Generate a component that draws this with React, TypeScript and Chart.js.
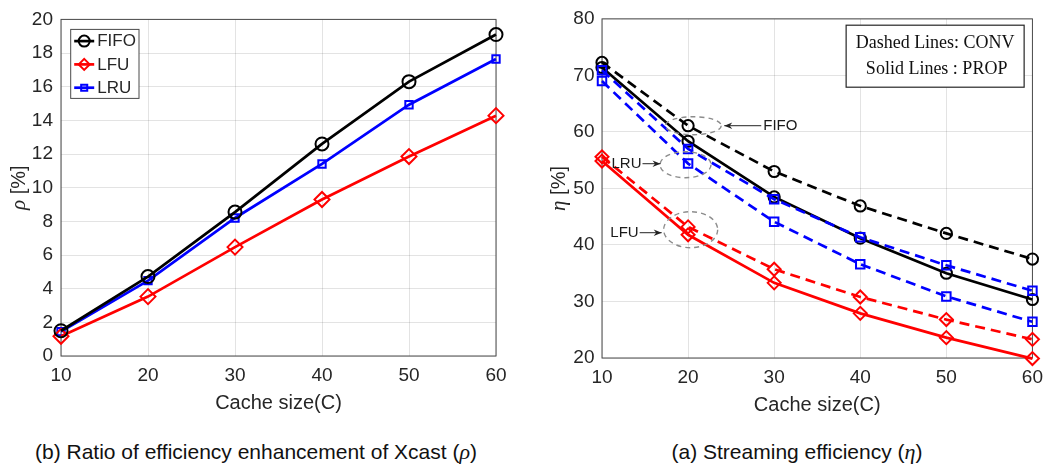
import React, { useEffect, useRef } from "react";
import { Chart, registerables } from "chart.js";

Chart.register(...registerables);

// ---------------- data ----------------
const cacheSizes = [10, 20, 30, 40, 50, 60];

// (b) ratio of efficiency enhancement rho [%]
const rhoFIFO = [1.5, 4.72, 8.55, 12.6, 16.3, 19.1];
const rhoLFU = [1.17, 3.53, 6.47, 9.3, 11.85, 14.28];
const rhoLRU = [1.45, 4.48, 8.2, 11.41, 14.93, 17.65];

// (a) streaming efficiency eta [%]
const etaFIFOConv = [72.3, 61.1, 53.0, 46.9, 42.05, 37.5];
const etaFIFOProp = [71.4, 58.35, 48.5, 41.2, 35.0, 30.35];
const etaLRUConv = [70.9, 57.0, 48.1, 41.35, 36.4, 31.9];
const etaLRUProp = [69.0, 54.4, 44.1, 36.6, 30.9, 26.4];
const etaLFUConv = [55.6, 43.2, 35.7, 30.8, 26.8, 23.3];
const etaLFUProp = [54.85, 41.8, 33.3, 27.9, 23.6, 19.9];

const rhoTicks = { min: 0, max: 20, step: 2 };
const etaTicks = { min: 20, max: 80, step: 10 };
const xTicks = { min: 10, max: 60, step: 10 };

const xTitle = "Cache size(C)";
const captionLeft = "(b) Ratio of efficiency enhancement of Xcast (";
const captionRight = "(a) Streaming efficiency (";
const noteLines = ["Dashed Lines: CONV", "Solid Lines : PROP"];

// annotation labels (ellipse centre in data units)
const annLabels = ["FIFO", "LRU", "LFU"];
const annCx = [20.6, 19.7, 20.3];
const annCy = [61.1, 54.2, 42.7];

// ---------------- styles ----------------
const SANS = '"Liberation Sans", Arial, sans-serif';
const SERIF = '"Liberation Serif", "Times New Roman", serif';
const TXT = "#262626";
const GRID = "rgba(38,38,38,0.13)";
const FRAME = "#4a4a4a";

const pts = (ys: number[]) => cacheSizes.map((x, i) => ({ x, y: ys[i] }));

function drawMarker(ctx: CanvasRenderingContext2D, style: string, x: number, y: number, r: number) {
  ctx.beginPath();
  if (style === "circle") {
    ctx.arc(x, y, r, 0, Math.PI * 2);
  } else if (style === "rectRot") {
    ctx.moveTo(x, y - r);
    ctx.lineTo(x + r, y);
    ctx.lineTo(x, y + r);
    ctx.lineTo(x - r, y);
    ctx.closePath();
  } else {
    const s = r * Math.SQRT1_2;
    ctx.rect(x - s, y - s, 2 * s, 2 * s);
  }
  ctx.stroke();
}

const framePlugin = {
  id: "frame",
  beforeDatasetsDraw(chart: any) {
    const { ctx, chartArea: a } = chart;
    ctx.save();
    ctx.strokeStyle = FRAME;
    ctx.lineWidth = 1;
    ctx.strokeRect(a.left, a.top, a.right - a.left, a.bottom - a.top);
    ctx.restore();
  },
};

function yTitlePlugin(symbol: string, rest: string, cx: number) {
  return {
    id: "ytitle",
    afterDraw(chart: any) {
      const { ctx, chartArea: a } = chart;
      const cy = (a.top + a.bottom) / 2;
      ctx.save();
      ctx.translate(cx, cy);
      ctx.rotate(-Math.PI / 2);
      const f1 = `italic 21px ${SERIF}`;
      const f2 = `20px ${SANS}`;
      ctx.font = f1;
      const w1 = ctx.measureText(symbol).width;
      ctx.font = f2;
      const w2 = ctx.measureText(rest).width;
      const x0 = -(w1 + w2) / 2;
      ctx.fillStyle = TXT;
      ctx.textAlign = "left";
      ctx.textBaseline = "middle";
      ctx.font = f1;
      ctx.fillText(symbol, x0, 0);
      ctx.font = f2;
      ctx.fillText(rest, x0 + w1, 0);
      ctx.restore();
    },
  };
}

const leftLegendPlugin = {
  id: "mlegend",
  afterDraw(chart: any) {
    const { ctx, chartArea: a } = chart;
    const x0 = a.left + 9.7;
    const y0 = a.top + 10;
    const w = 68.3;
    const h = 69;
    ctx.save();
    ctx.fillStyle = "#fff";
    ctx.fillRect(x0, y0, w, h);
    ctx.strokeStyle = FRAME;
    ctx.lineWidth = 1;
    ctx.strokeRect(x0, y0, w, h);
    chart.data.datasets.forEach((ds: any, i: number) => {
      const y = y0 + 11.7 + i * 23.3;
      ctx.strokeStyle = ds.borderColor;
      ctx.lineWidth = 2.7;
      ctx.setLineDash([]);
      ctx.beginPath();
      ctx.moveTo(x0 + 3.5, y);
      ctx.lineTo(x0 + 23.5, y);
      ctx.stroke();
      ctx.lineWidth = 2;
      drawMarker(ctx, ds.pointStyle, x0 + 13.5, y, ds.pointStyle === "rect" ? 4.3 : 5.5);
      ctx.fillStyle = TXT;
      ctx.font = `17px ${SANS}`;
      ctx.textAlign = "left";
      ctx.textBaseline = "middle";
      ctx.fillText(ds.label, x0 + 26.5, y + 0.5);
    });
    ctx.restore();
  },
};

const noteBoxPlugin = {
  id: "notebox",
  afterDraw(chart: any) {
    const { ctx, chartArea: a } = chart;
    const w = 178;
    const h = 62;
    const x0 = a.right - 8.3 - w;
    const y0 = a.top + 6.3;
    ctx.save();
    ctx.fillStyle = "#fff";
    ctx.fillRect(x0, y0, w, h);
    ctx.strokeStyle = "#262626";
    ctx.lineWidth = 1.2;
    ctx.strokeRect(x0, y0, w, h);
    ctx.fillStyle = "#111";
    ctx.font = `18px ${SERIF}`;
    ctx.textAlign = "center";
    ctx.textBaseline = "middle";
    ctx.fillText(noteLines[0], x0 + w / 2, y0 + 17.7);
    ctx.fillText(noteLines[1], x0 + w / 2 + 1.5, y0 + 44.4);
    ctx.restore();
  },
};

// per annotation geometry in px: rx, ry, text side, arrow tail/head offsets, text offset, dy
const annGeom = [
  { rx: 28, ry: 9, side: "right", tail: 68, head: 31, text: 70, dy: 0 },
  { rx: 25.5, ry: 13, side: "left", tail: -43, head: -25, text: -44, dy: -1 },
  { rx: 27, ry: 18, side: "left", tail: -51, head: -29, text: -52, dy: 3 },
];

const annotationPlugin = {
  id: "ann",
  afterDatasetsDraw(chart: any) {
    const { ctx, scales } = chart;
    ctx.save();
    annLabels.forEach((label, i) => {
      const g = annGeom[i];
      const cx = scales.x.getPixelForValue(annCx[i]);
      const cy = scales.y.getPixelForValue(annCy[i]);
      ctx.strokeStyle = "#8c8c8c";
      ctx.lineWidth = 1.4;
      ctx.setLineDash([5, 4]);
      ctx.beginPath();
      ctx.ellipse(cx, cy, g.rx, g.ry, 0, 0, Math.PI * 2);
      ctx.stroke();
      ctx.setLineDash([]);
      const y = cy + g.dy;
      const tx = cx + g.tail;
      const hx = cx + g.head;
      ctx.strokeStyle = "#222";
      ctx.lineWidth = 1;
      ctx.beginPath();
      ctx.moveTo(tx, y);
      ctx.lineTo(hx, y);
      ctx.stroke();
      const dir = hx > tx ? 1 : -1;
      ctx.fillStyle = "#222";
      ctx.beginPath();
      ctx.moveTo(hx, y);
      ctx.lineTo(hx - dir * 8, y - 3.2);
      ctx.lineTo(hx - dir * 5.5, y);
      ctx.lineTo(hx - dir * 8, y + 3.2);
      ctx.closePath();
      ctx.fill();
      ctx.fillStyle = "#1a1a1a";
      ctx.font = `15px ${SANS}`;
      ctx.textBaseline = "middle";
      ctx.textAlign = g.side === "right" ? "left" : "right";
      ctx.fillText(label, cx + g.text, y + 0.5);
    });
    ctx.restore();
  },
};

function scalesConfig(yr: { min: number; max: number; step: number }, yWidth: number, xHeight: number, titlePad: number, yPad: number) {
  return {
    x: {
      type: "linear",
      min: xTicks.min,
      max: xTicks.max,
      ticks: { stepSize: xTicks.step, color: TXT, font: { size: 19, family: SANS }, padding: 8, maxRotation: 0 },
      grid: { color: GRID, drawTicks: false, lineWidth: 1 },
      border: { display: false },
      title: { display: true, text: xTitle, color: TXT, font: { size: 20, family: SANS }, padding: { top: 0, bottom: titlePad } },
      afterFit: (s: any) => {
        s.height = xHeight;
      },
    },
    y: {
      type: "linear",
      min: yr.min,
      max: yr.max,
      ticks: { stepSize: yr.step, color: TXT, font: { size: 19, family: SANS }, padding: yPad },
      grid: { color: GRID, drawTicks: false, lineWidth: 1 },
      border: { display: false },
      afterFit: (s: any) => {
        s.width = yWidth;
      },
    },
  };
}

function lineDs(label: string, ys: number[], color: string, pointStyle: string, r: number, dashed: boolean) {
  return {
    label,
    data: pts(ys),
    borderColor: color,
    backgroundColor: color,
    pointBorderColor: color,
    pointBackgroundColor: "rgba(0,0,0,0)",
    borderWidth: 2.7,
    borderDash: dashed ? [10, 6] : [],
    pointStyle,
    pointRadius: r,
    pointBorderWidth: 2,
    pointHoverRadius: r,
    tension: 0,
    fill: false,
    clip: false,
  };
}

function LeftChart() {
  const ref = useRef<HTMLCanvasElement>(null);
  useEffect(() => {
    const chart = new Chart(ref.current as HTMLCanvasElement, {
      type: "line",
      data: {
        datasets: [
          lineDs("FIFO", rhoFIFO, "#000000", "circle", 6.5, false),
          lineDs("LFU", rhoLFU, "#ff0000", "rectRot", 7.5, false),
          lineDs("LRU", rhoLRU, "#0000ff", "rect", 5.2, false),
        ],
      } as any,
      options: {
        animation: false,
        responsive: false,
        events: [],
        layout: { padding: { left: 0, right: 29, top: 15, bottom: 0 } },
        plugins: { legend: { display: false }, tooltip: { enabled: false } },
        scales: scalesConfig(rhoTicks, 61, 64, 5, 8) as any,
      },
      plugins: [framePlugin, yTitlePlugin("ρ", " [%]", 19), leftLegendPlugin],
    });
    return () => chart.destroy();
  }, []);
  return <canvas ref={ref} width={525} height={420} style={{ position: "absolute", left: 0, top: 0 }} />;
}

function RightChart() {
  const ref = useRef<HTMLCanvasElement>(null);
  useEffect(() => {
    const chart = new Chart(ref.current as HTMLCanvasElement, {
      type: "line",
      data: {
        datasets: [
          lineDs("LFU (PROP)", etaLFUProp, "#ff0000", "rectRot", 6.5, false),
          lineDs("LFU (CONV)", etaLFUConv, "#ff0000", "rectRot", 6.5, true),
          lineDs("LRU (PROP)", etaLRUProp, "#0000ff", "rect", 6, true),
          lineDs("LRU (CONV)", etaLRUConv, "#0000ff", "rect", 6, true),
          lineDs("FIFO (PROP)", etaFIFOProp, "#000000", "circle", 5.6, false),
          lineDs("FIFO (CONV)", etaFIFOConv, "#000000", "circle", 5.6, true),
        ],
      } as any,
      options: {
        animation: false,
        responsive: false,
        events: [],
        layout: { padding: { left: 0, right: 12, top: 16, bottom: 0 } },
        plugins: { legend: { display: false }, tooltip: { enabled: false } },
        scales: scalesConfig(etaTicks, 77, 62, 3, 7.5) as any,
      },
      plugins: [framePlugin, yTitlePlugin("η", " [%]", 34), annotationPlugin, noteBoxPlugin],
    });
    return () => chart.destroy();
  }, []);
  return <canvas ref={ref} width={526} height={420} style={{ position: "absolute", left: 525, top: 0 }} />;
}

const captionStyle: React.CSSProperties = {
  position: "absolute",
  top: 440,
  fontFamily: SANS,
  fontSize: 21,
  color: "#111",
  whiteSpace: "nowrap",
  transform: "translateX(-50%)",
  lineHeight: "24px",
};
const greek: React.CSSProperties = { fontFamily: SERIF, fontStyle: "italic", fontSize: 22 };

export default function App() {
  return (
    <div style={{ position: "absolute", left: 0, top: 0, width: 1051, height: 465, background: "#fff", overflow: "hidden" }}>
      <LeftChart />
      <RightChart />
      <div style={{ ...captionStyle, left: 256 }}>
        {captionLeft}
        <span style={greek}>ρ</span>)
      </div>
      <div style={{ ...captionStyle, left: 797 }}>
        {captionRight}
        <span style={greek}>η</span>)
      </div>
    </div>
  );
}
